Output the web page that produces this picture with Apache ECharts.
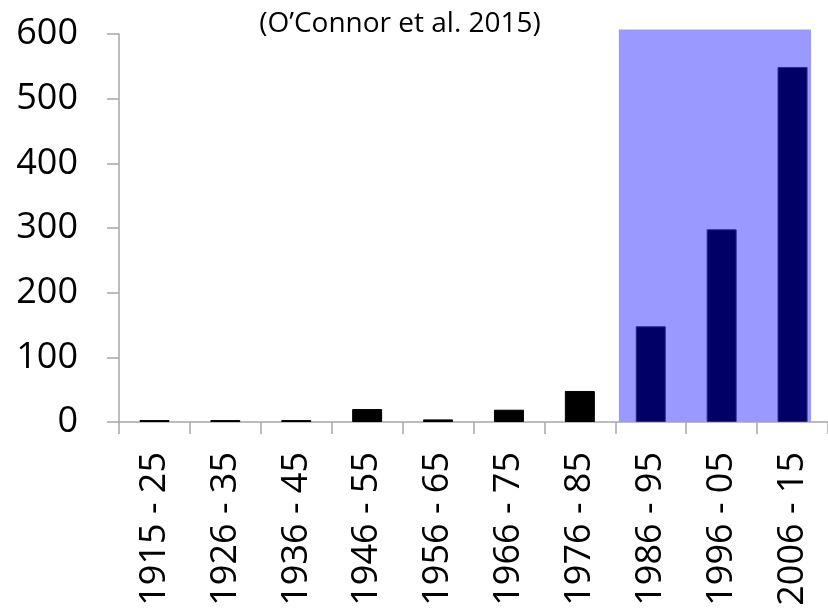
<!DOCTYPE html>
<html>
<head>
<meta charset="utf-8">
<script src="https://cdn.jsdelivr.net/npm/echarts@6/dist/echarts.min.js"></script>
<style>
  html, body { margin: 0; padding: 0; background: #fff; }
  #chart { width: 828px; height: 611px; }
</style>
</head>
<body>
<div id="chart"></div>
<script>
  // decades and counts
  const periods = ['1915 - 25', '1926 - 35', '1936 - 45', '1946 - 55', '1956 - 65',
    '1966 - 75', '1976 - 85', '1986 - 95', '1996 - 05', '2006 - 15']
  const counts = [3, 3, 3, 20, 4, 19, 48, 148, 298, 549]
  const yTicks = [0, 100, 200, 300, 400, 500, 600]
  // shaded box behind the last three decades, in category units / value units
  const highlightBox = [7.05, 9.76, 607]
  const highlightFrom = 7

  const chart = echarts.init(document.getElementById('chart'))
  const font = '"Open Sans", "Noto Sans", sans-serif'

  const barData = counts.map((v, i) => ({
    value: v,
    itemStyle: i >= highlightFrom
      ? { color: '#000066', borderColor: '#2a2a88' }
      : { color: '#000000', borderColor: '#000000' }
  }))

  chart.setOption({
    animation: false,
    title: {
      text: '(O\u2019Connor et al. 2015)',
      left: 395,
      top: 5,
      textAlign: 'center',
      textStyle: { fontFamily: font, fontSize: 28, fontWeight: 'normal', color: '#000' }
    },
    grid: { left: 119, right: 0, top: 34, bottom: 189, outerBoundsMode: 'none', containLabel: false },
    xAxis: [
      {
        type: 'category',
        data: periods,
        axisLine: { lineStyle: { color: '#a6a6a6', width: 1.5 } },
        axisTick: { show: true, length: 12, lineStyle: { color: '#a6a6a6', width: 1.5 } },
        axisLabel: {
          rotate: 90,
          margin: 30,
          fontFamily: font,
          fontSize: 36,
          color: '#000'
        }
      },
      { type: 'value', min: 0, max: 10, show: false }
    ],
    yAxis: {
      type: 'value',
      min: yTicks[0],
      max: yTicks[yTicks.length - 1],
      interval: 100,
      splitLine: { show: false },
      axisLine: { show: true, lineStyle: { color: '#a6a6a6', width: 1.5 } },
      axisTick: { show: true, length: 12, lineStyle: { color: '#a6a6a6', width: 1.5 } },
      axisLabel: { margin: 41, fontFamily: font, fontSize: 36, color: '#000' }
    },
    series: [
      {
        type: 'custom',
        xAxisIndex: 1,
        z: 1,
        silent: true,
        data: [highlightBox],
        renderItem(params, api) {
          const p0 = api.coord([api.value(0), api.value(2)])
          const p1 = api.coord([api.value(1), 0])
          return {
            type: 'rect',
            shape: { x: p0[0], y: p0[1], width: p1[0] - p0[0], height: p1[1] - p0[1] },
            style: { fill: '#9999ff' }
          }
        }
      },
      {
        type: 'bar',
        z: 3,
        data: barData,
        barWidth: 30,
        itemStyle: { borderWidth: 1 }
      }
    ]
  })
</script>
</body>
</html>
